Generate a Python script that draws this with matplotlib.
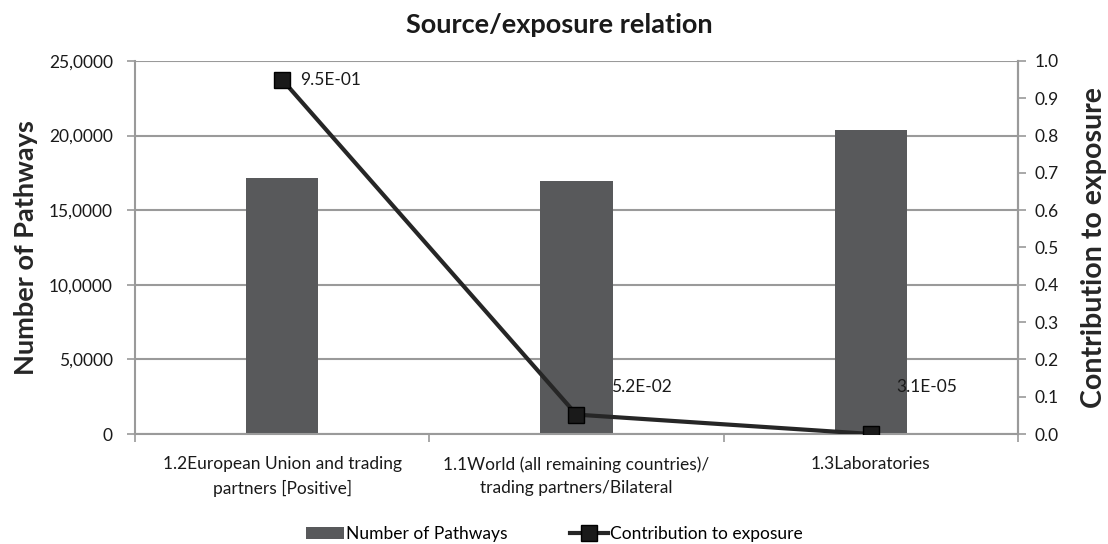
import matplotlib.pyplot as plt
import numpy as np

plt.rcParams["font.family"] = ["Lato", "DejaVu Sans"]

categories = [
    "1.2European Union and trading\npartners [Positive]",
    "1.1World (all remaining countries)/\ntrading partners/Bilateral",
    "1.3Laboratories",
]
pathways = [17150, 16950, 20400]
contribution = [0.95, 0.052, 0.000031]
contribution_labels = ["9.5E-01", "5.2E-02", "3.1E-05"]

left_ticks = [0, 5000, 10000, 15000, 20000, 25000]
left_tick_labels = ["0", "5,0000", "10,0000", "15,0000", "20,0000", "25,0000"]
right_ticks = [0.0, 0.1, 0.2, 0.3, 0.4, 0.5, 0.6, 0.7, 0.8, 0.9, 1.0]

grey = "#9a9a9a"
text_color = "#1a1a1a"

fig = plt.figure(figsize=(11.08, 5.44), dpi=100)
ax = fig.add_axes([0.1218, 0.2022, 0.797, 0.6857])
x = np.arange(len(categories))

bars = ax.bar(x, pathways, width=0.245, color="#58595b", zorder=2,
              label="Number of Pathways")
ax.set_xlim(-0.5, len(categories) - 0.5)
ax.set_ylim(0, 25000)
ax.set_yticks(left_ticks)
ax.set_yticklabels(left_tick_labels)
ax.yaxis.grid(True, color=grey, linewidth=1.5, zorder=0)
ax.set_axisbelow(True)

ax.set_xticks(x)
ax.set_xticklabels(categories, fontsize=12.5, color=text_color, linespacing=1.55)
ax.set_xticks(np.arange(len(categories) + 1) - 0.5, minor=True)
ax.tick_params(axis="x", which="major", length=0, pad=16)
ax.tick_params(axis="x", which="minor", length=6, color=grey, width=1.2)
ax.tick_params(axis="y", length=6, color=grey, width=1.2, labelsize=12.5,
               labelcolor=text_color, pad=10)

ax.spines["top"].set_visible(False)
for side in ["left", "bottom", "right"]:
    ax.spines[side].set_color(grey)
    ax.spines[side].set_linewidth(1.5)

ax.set_ylabel("Number of Pathways", fontsize=19.5, fontweight="bold",
              color="#262626", labelpad=8)

ax2 = ax.twinx()
line, = ax2.plot(x, contribution, color="#262626", linewidth=3, marker="s",
                 markersize=11, markerfacecolor="#1a1a1a",
                 markeredgecolor="#000000", zorder=3,
                 label="Contribution to exposure")
ax2.set_ylim(0, 1.0)
ax2.set_yticks(right_ticks)
ax2.set_yticklabels([f"{t:.1f}" for t in right_ticks])
ax2.tick_params(axis="y", length=6, color=grey, width=1.2, labelsize=12.5,
                labelcolor=text_color, pad=6)
for side in ["top", "left", "bottom"]:
    ax2.spines[side].set_visible(False)
ax2.spines["right"].set_color(grey)
ax2.spines["right"].set_linewidth(1.5)
ax2.set_ylabel("Contribution to exposure", fontsize=20.5, fontweight="bold",
               color="#262626", labelpad=16)

offsets = [(13, 0), (25, 20), (18, 34)]
for xi, yi, lab, off in zip(x, contribution, contribution_labels, offsets):
    ax2.annotate(lab, (xi, yi), xytext=off, textcoords="offset points",
                 fontsize=12.5, color=text_color, va="center", ha="left")

ax.set_title("Source/exposure relation", fontsize=19.5, fontweight="bold",
             color=text_color, pad=20, x=0.481)

fig.legend([bars, line], ["Number of Pathways", "Contribution to exposure"],
           loc="lower center", bbox_to_anchor=(0.5, -0.025), ncol=2,
           frameon=False, fontsize=12.5, columnspacing=3.6, handlelength=2.2,
           handletextpad=0.1)

fig.savefig("out.png", dpi=100)
